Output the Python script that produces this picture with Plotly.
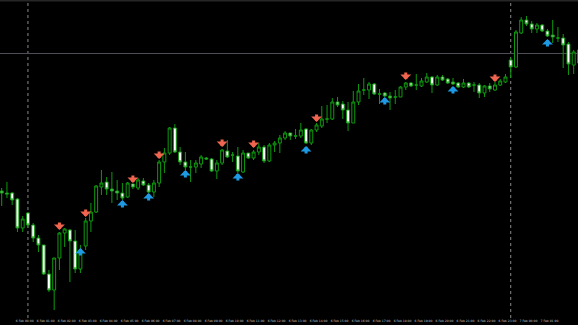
import plotly.graph_objects as go

# ---- data (price values) ----
opens = [1.09818, 1.09814, 1.09814, 1.09802, 1.09744, 1.09774, 1.09750, 1.09724, 1.09710, 1.09652,
         1.09620, 1.09684, 1.09734, 1.09740, 1.09718, 1.09662, 1.09708, 1.09758, 1.09776, 1.09826,
         1.09836, 1.09822, 1.09818, 1.09814, 1.09806, 1.09832, 1.09824, 1.09838, 1.09830, 1.09816,
         1.09834, 1.09876, 1.09894, 1.09944, 1.09896, 1.09876, 1.09866, 1.09866, 1.09872, 1.09884,
         1.09882, 1.09858, 1.09874, 1.09898, 1.09890, 1.09888, 1.09856, 1.09894, 1.09884, 1.09896,
         1.09906, 1.09878, 1.09910, 1.09914, 1.09924, 1.09934, 1.09928, 1.09928, 1.09942, 1.09914,
         1.09940, 1.09948, 1.09962, 1.09962, 1.09996, 1.09992, 1.09980, 1.09954, 1.09996, 1.10020,
         1.10020, 1.10032, 1.10012, 1.10014, 1.10008, 1.10006, 1.10006, 1.10026, 1.10034, 1.10030,
         1.10028, 1.10036, 1.10046, 1.10030, 1.10046, 1.10042, 1.10036, 1.10034, 1.10026, 1.10034,
         1.10030, 1.10030, 1.10014, 1.10028, 1.10020, 1.10030, 1.10036, 1.10080, 1.10066, 1.10134,
         1.10160, 1.10152, 1.10142, 1.10150, 1.10138, 1.10130, 1.10124, 1.10124, 1.10112, 1.10070,
         1.10074]
highs = [1.09824, 1.09836, 1.09816, 1.09804, 1.09768, 1.09776, 1.09754, 1.09730, 1.09710, 1.09660,
         1.09684, 1.09736, 1.09744, 1.09742, 1.09740, 1.09710, 1.09764, 1.09794, 1.09830, 1.09860,
         1.09846, 1.09856, 1.09840, 1.09834, 1.09836, 1.09832, 1.09844, 1.09844, 1.09834, 1.09840,
         1.09880, 1.09904, 1.09946, 1.09952, 1.09906, 1.09896, 1.09880, 1.09880, 1.09890, 1.09886,
         1.09884, 1.09880, 1.09902, 1.09920, 1.09896, 1.09906, 1.09900, 1.09894, 1.09900, 1.09914,
         1.09910, 1.09914, 1.09918, 1.09930, 1.09938, 1.09934, 1.09942, 1.09954, 1.09944, 1.09942,
         1.09954, 1.09988, 1.09990, 1.10004, 1.10006, 1.09998, 1.09996, 1.10018, 1.10032, 1.10044,
         1.10036, 1.10034, 1.10022, 1.10016, 1.10016, 1.10020, 1.10028, 1.10036, 1.10036, 1.10052,
         1.10044, 1.10054, 1.10048, 1.10050, 1.10050, 1.10044, 1.10044, 1.10036, 1.10042, 1.10036,
         1.10036, 1.10034, 1.10030, 1.10034, 1.10036, 1.10042, 1.10052, 1.10084, 1.10140, 1.10166,
         1.10168, 1.10158, 1.10154, 1.10152, 1.10142, 1.10160, 1.10146, 1.10132, 1.10116, 1.10100,
         1.10110]
lows = [1.09788, 1.09804, 1.09790, 1.09736, 1.09736, 1.09744, 1.09716, 1.09696, 1.09650, 1.09616,
        1.09580, 1.09660, 1.09706, 1.09636, 1.09654, 1.09654, 1.09700, 1.09736, 1.09774, 1.09810,
        1.09810, 1.09794, 1.09800, 1.09800, 1.09804, 1.09822, 1.09820, 1.09828, 1.09814, 1.09806,
        1.09826, 1.09854, 1.09890, 1.09894, 1.09870, 1.09860, 1.09836, 1.09854, 1.09864, 1.09880,
        1.09856, 1.09842, 1.09870, 1.09884, 1.09876, 1.09854, 1.09854, 1.09882, 1.09880, 1.09890,
        1.09874, 1.09876, 1.09896, 1.09894, 1.09920, 1.09920, 1.09922, 1.09924, 1.09912, 1.09910,
        1.09936, 1.09944, 1.09954, 1.09960, 1.09986, 1.09962, 1.09938, 1.09954, 1.09990, 1.10010,
        1.10002, 1.10010, 1.09992, 1.10006, 1.09980, 1.09992, 1.10006, 1.10020, 1.10026, 1.10020,
        1.10026, 1.10034, 1.10014, 1.10028, 1.10038, 1.10032, 1.10030, 1.10024, 1.10024, 1.10024,
        1.10016, 1.10004, 1.10006, 1.10016, 1.10018, 1.10028, 1.10034, 1.10044, 1.10064, 1.10132,
        1.10148, 1.10134, 1.10134, 1.10136, 1.10126, 1.10114, 1.10116, 1.10064, 1.10050, 1.10052,
        1.10060]
closes = [1.09814, 1.09812, 1.09800, 1.09744, 1.09762, 1.09750, 1.09724, 1.09710, 1.09652, 1.09620,
          1.09684, 1.09734, 1.09742, 1.09718, 1.09662, 1.09700, 1.09758, 1.09776, 1.09828, 1.09834,
          1.09822, 1.09818, 1.09814, 1.09804, 1.09834, 1.09826, 1.09840, 1.09830, 1.09816, 1.09834,
          1.09876, 1.09894, 1.09944, 1.09896, 1.09876, 1.09866, 1.09866, 1.09874, 1.09886, 1.09882,
          1.09858, 1.09874, 1.09900, 1.09886, 1.09890, 1.09858, 1.09894, 1.09884, 1.09896, 1.09906,
          1.09878, 1.09910, 1.09914, 1.09924, 1.09934, 1.09928, 1.09928, 1.09940, 1.09914, 1.09940,
          1.09950, 1.09962, 1.09962, 1.09996, 1.09990, 1.09980, 1.09954, 1.09996, 1.10018, 1.10020,
          1.10032, 1.10012, 1.10012, 1.10008, 1.10004, 1.10006, 1.10026, 1.10034, 1.10028, 1.10030,
          1.10038, 1.10046, 1.10030, 1.10046, 1.10040, 1.10034, 1.10032, 1.10026, 1.10034, 1.10026,
          1.10030, 1.10014, 1.10028, 1.10022, 1.10030, 1.10038, 1.10046, 1.10066, 1.10136, 1.10160,
          1.10152, 1.10142, 1.10150, 1.10138, 1.10128, 1.10126, 1.10124, 1.10110, 1.10072, 1.10096,
          1.10100]

sell_bars = [11, 16, 25, 30, 42, 48, 60, 77, 94]
sell_prices = [1.09740, 1.09766, 1.09834, 1.09882, 1.09906, 1.09904, 1.09956, 1.10040, 1.10036]
buy_bars = [15, 23, 28, 35, 45, 58, 73, 86, 104]
buy_prices = [1.09704, 1.09800, 1.09814, 1.09860, 1.09854, 1.09908, 1.10006, 1.10028, 1.10122]

separator_bars = [5, 97]
level_price = 1.10093

tick_bars = [0, 4, 8, 12, 16, 20, 24, 28, 32, 36, 40, 44, 48, 52, 56,
             60, 64, 68, 72, 76, 80, 84, 88, 92, 96, 100, 104, 108]
tick_labels = ["5 Feb 23:00", "6 Feb 00:00", "6 Feb 01:00", "6 Feb 02:00", "6 Feb 03:00",
               "6 Feb 04:00", "6 Feb 05:00", "6 Feb 06:00", "6 Feb 07:00", "6 Feb 08:00",
               "6 Feb 09:00", "6 Feb 10:00", "6 Feb 11:00", "6 Feb 12:00", "6 Feb 13:00",
               "6 Feb 14:00", "6 Feb 15:00", "6 Feb 16:00", "6 Feb 17:00", "6 Feb 18:00",
               "6 Feb 19:00", "6 Feb 20:00", "6 Feb 21:00", "6 Feb 22:00", "6 Feb 23:00",
               "7 Feb 00:00", "7 Feb 01:00", "7 Feb 02:00"]

bars = list(range(len(opens)))

GREEN = "#0e9a0e"

fig = go.Figure()
fig.add_trace(go.Candlestick(
    x=bars, open=opens, high=highs, low=lows, close=closes,
    increasing=dict(line=dict(color=GREEN, width=1), fillcolor="#000000"),
    decreasing=dict(line=dict(color=GREEN, width=1), fillcolor="#ffffff"),
    whiskerwidth=0, hoverinfo="skip", showlegend=False,
))

shapes = []
for b in separator_bars:
    shapes.append(dict(type="line", xref="x", yref="paper", x0=b, x1=b, y0=0, y1=1,
                       line=dict(color="#8a8a8a", width=1, dash="dot"), layer="below"))
shapes.append(dict(type="line", xref="paper", yref="y", x0=0, x1=1, y0=level_price, y1=level_price,
                   line=dict(color="#4e4e58", width=1), layer="below"))
shapes.append(dict(type="line", xref="paper", yref="paper", x0=0, x1=1, y0=1, y1=1,
                   line=dict(color="#262626", width=3)))

annotations = []
for b, p in zip(sell_bars, sell_prices):
    annotations.append(dict(x=b, y=p, xref="x", yref="y", text="", showarrow=True,
                            ax=0, ay=-9, arrowhead=1, arrowsize=0.6, arrowwidth=3,
                            arrowcolor="#f0654f", standoff=0, startstandoff=0))
for b, p in zip(buy_bars, buy_prices):
    annotations.append(dict(x=b, y=p, xref="x", yref="y", text="", showarrow=True,
                            ax=0, ay=9, arrowhead=1, arrowsize=0.6, arrowwidth=3,
                            arrowcolor="#1e9ae4", standoff=0, startstandoff=0))

fig.update_layout(
    width=578, height=325,
    margin=dict(l=0, r=0, t=0, b=7),
    paper_bgcolor="#000000", plot_bgcolor="#000000",
    boxgap=0.2,
    shapes=shapes, annotations=annotations,
    showlegend=False,
    xaxis=dict(range=[-0.324, 109.82], showgrid=False, zeroline=False,
               rangeslider=dict(visible=False),
               tickmode="array", tickvals=tick_bars, ticktext=tick_labels,
               tickangle=0,
               tickfont=dict(size=3, color="#c8c8c8", family="DejaVu Sans"),
               ticks="", ticklabelshift=2, ticklabelstandoff=0, showline=False),
    yaxis=dict(range=[1.09564, 1.10200], showgrid=False, zeroline=False,
               showticklabels=False, ticks="", showline=False),
)

fig.write_html("out.html")
